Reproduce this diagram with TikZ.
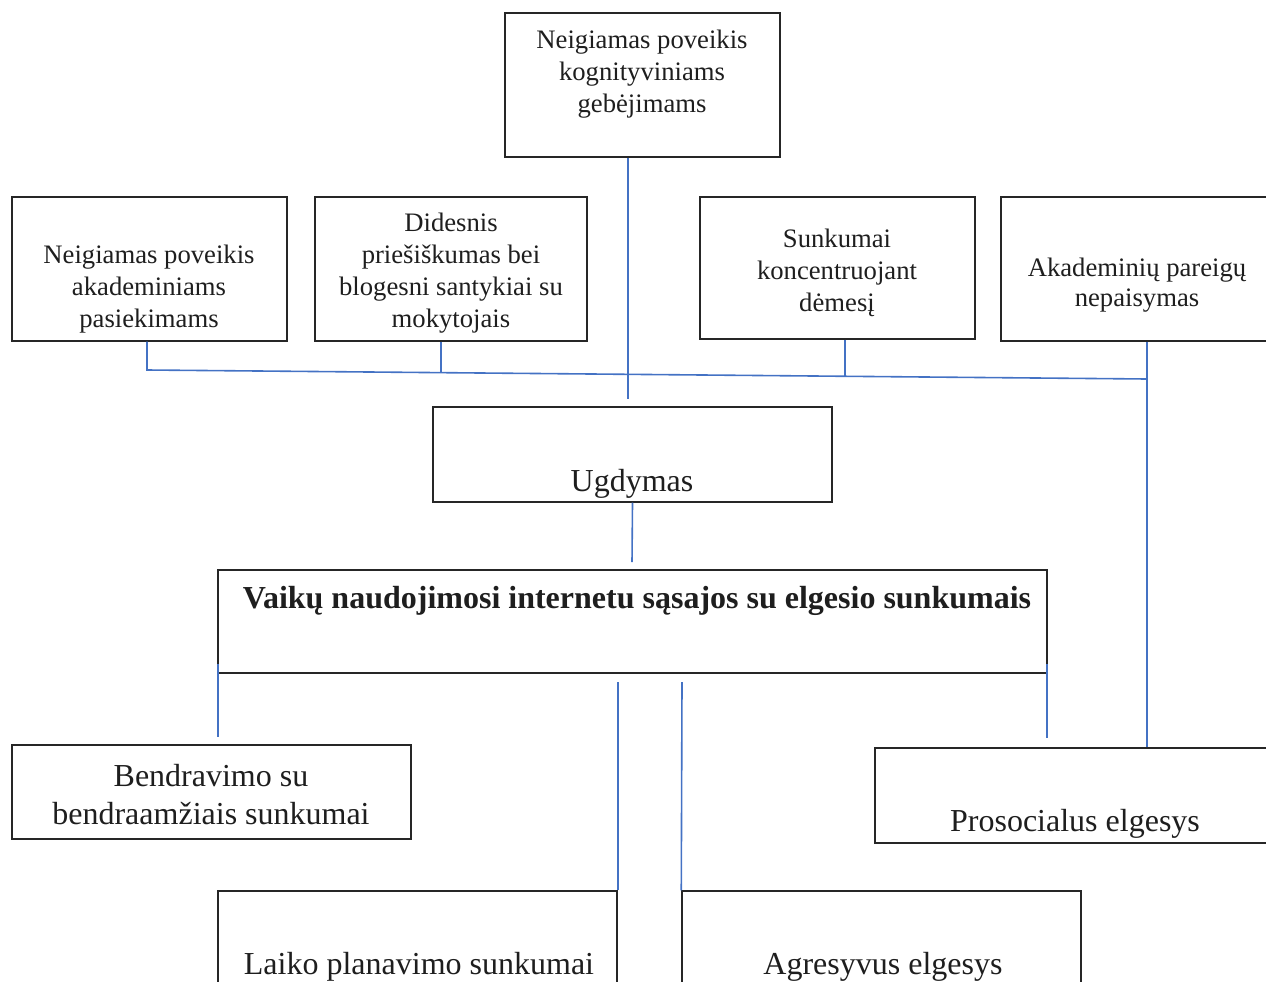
\documentclass[tikz,border=0pt]{standalone}
\usepackage{fontspec}
\setmainfont{Liberation Serif}
\newlength\pxu \setlength\pxu{0.75pt}
\definecolor{linkblue}{RGB}{68,114,196}
\definecolor{txtgray}{RGB}{30,30,30}
\begin{document}
\begin{tikzpicture}[x=0.75pt,y=-0.75pt,
  box/.style={draw=black!85, line width=1.1pt, inner sep=0pt, rectangle},
  small/.style={font=\fontsize{20}{24}\selectfont, align=center, inner sep=0pt, text=txtgray},
  big/.style={font=\fontsize{24}{28.5}\selectfont, align=center, inner sep=0pt, text=txtgray},
  link/.style={draw=linkblue, line width=1.2pt}]
\useasboundingbox (0,0) rectangle (1266,981);

% boxes
\node[box, minimum width=275\pxu, minimum height=144\pxu] (top) at (642.5,85) {};
\node[box, minimum width=275\pxu, minimum height=144\pxu] (A) at (149.5,269) {};
\node[box, minimum width=272\pxu, minimum height=144\pxu] (B) at (451,269) {};
\node[box, minimum width=275\pxu, minimum height=142\pxu] (C) at (837.5,268) {};
\node[box, minimum width=275\pxu, minimum height=144\pxu] (D) at (1138.5,269) {};
\node[box, minimum width=399\pxu, minimum height=95\pxu] (ug) at (632.5,454.5) {};
\node[box, minimum width=829\pxu, minimum height=103\pxu] (main) at (632.5,621.5) {};
\node[box, minimum width=399\pxu, minimum height=94\pxu] (bend) at (211.5,792) {};
\node[box, minimum width=399\pxu, minimum height=95\pxu] (pro) at (1074.5,795.5) {};
\node[box, minimum width=399\pxu, minimum height=95\pxu] (laiko) at (417.5,938.5) {};
\node[box, minimum width=399\pxu, minimum height=95\pxu] (agr) at (881.5,938.5) {};

% texts
\node[small] (toptxt) at (642,74.5) {Neigiamas poveikis\\kognityviniams\\gebėjimams};
\node[small] (Atxt) at (149,289) {Neigiamas poveikis\\akademiniams\\pasiekimams};
\node[small] (Btxt) at (451,273) {Didesnis\\priešiškumas bei\\blogesni santykiai su\\mokytojais};
\node[small] (Ctxt) at (837,273) {Sunkumai\\koncentruojant\\dėmesį};
\node[small, font=\fontsize{20}{22.5}\selectfont] (Dtxt) at (1137,285) {Akademinių pareigų\\nepaisymas};
\node[big] (ugtxt) at (632,484) {Ugdymas};
\node[big, font=\fontsize{24}{28.5}\selectfont\bfseries] (maintxt) at (637,601) {Vaikų naudojimosi internetu sąsajos su elgesio sunkumais};
\node[big] (bendtxt) at (211,795) {Bendravimo su\\bendraamžiais sunkumai};
\node[big] (protxt) at (1075,824) {Prosocialus elgesys};
\node[big] (laikotxt) at (419,967) {Laiko planavimo sunkumai};
\node[big] (agrtxt) at (883,967) {Agresyvus elgesys};

% connector coordinates
\coordinate (ugin) at (628,399);
\coordinate (hA) at (147,370);
\coordinate (hB) at (441,372.6);
\coordinate (hC) at (845,376.3);
\coordinate (hD) at (1147,379);
\coordinate (mainin) at (632,562);
\coordinate (mL) at (218,664);
\coordinate (mR) at (1047,664);
\coordinate (m1) at (618,682);
\coordinate (m2) at (682,682);

% connectors
\draw[link] (top.south -| ugin) -- (ugin);
\draw[link] (A.south -| hA) -- (hA) -- (hD);
\draw[link] (B.south -| hB) -- (hB);
\draw[link] (C.south -| hC) -- (hC);
\draw[link] (D.south -| hD) -- (hD |- pro.north);
\draw[link] (ug.south) -- (mainin);
\draw[link] (mL) -- ([yshift=5.5pt]mL |- bend.north);
\draw[link] (mR) -- ([yshift=7pt]mR |- pro.north);
\draw[link] (m1) -- (m1 |- laiko.north);
\draw[link] (m2) -- (agr.north west);
\end{tikzpicture}
\end{document}
